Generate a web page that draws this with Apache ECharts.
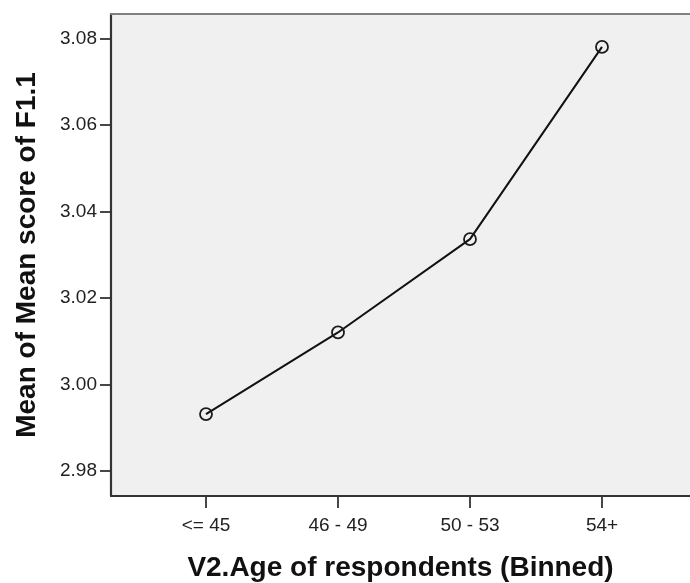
<!DOCTYPE html>
<html>
<head>
<meta charset="utf-8">
<script src="https://cdn.jsdelivr.net/npm/echarts@6/dist/echarts.min.js"></script>
<style>
  html, body { margin: 0; padding: 0; background: #fff; }
  #main { width: 690px; height: 583px; }
</style>
</head>
<body>
<div id="main"></div>
<script>
// age bins and mean values
var ageBins = ['<= 45', '46 - 49', '50 - 53', '54+'];
var meanScore = [2.9931, 3.0120, 3.0336, 3.0781];
var yMin = 2.98, yMax = 3.08, yStep = 0.02;

var fontName = 'Liberation Sans, Arial, sans-serif';

var myChart = echarts.init(document.getElementById('main'));
myChart.setOption({
    animation: false,
    grid: [
        // frame with the grey background
        { left: 111, top: 14, right: 0, bottom: 87, show: true, backgroundColor: '#f0f0f0', borderWidth: 0,
          outerBoundsMode: 'none', containLabel: false },
        // inner area where the points sit
        { left: 206, top: 38.7, width: 396, height: 432, outerBoundsMode: 'none', containLabel: false }
    ],
    xAxis: [
        {
            gridIndex: 0, type: 'value', min: 0, max: 1,
            axisLine: { show: true, lineStyle: { color: '#333', width: 2.2 } },
            axisTick: { show: false }, axisLabel: { show: false }, splitLine: { show: false },
            name: 'V2.Age of respondents (Binned)',
            nameLocation: 'middle', nameGap: 58,
            nameTextStyle: { fontFamily: fontName, fontSize: 28, fontWeight: 'bold', color: '#111' }
        },
        {
            gridIndex: 0, type: 'value', min: 0, max: 1, position: 'top',
            axisLine: { show: true, lineStyle: { color: '#808080', width: 2 } },
            axisTick: { show: false }, axisLabel: { show: false }, splitLine: { show: false }
        },
        {
            gridIndex: 1, type: 'category', data: ageBins, boundaryGap: false,
            offset: 25.3,
            axisLine: { show: false },
            axisTick: { show: true, length: 12, lineStyle: { color: '#333', width: 1.8 } },
            axisLabel: { margin: 20, fontFamily: fontName, fontSize: 19, color: '#222' },
            splitLine: { show: false }
        }
    ],
    yAxis: [
        {
            gridIndex: 0, type: 'value', min: 0, max: 1,
            axisLine: { show: true, lineStyle: { color: '#333', width: 2.2 } },
            axisTick: { show: false }, axisLabel: { show: false }, splitLine: { show: false },
            name: 'Mean of Mean score of F1.1',
            nameLocation: 'middle', nameGap: 70,
            nameTextStyle: { fontFamily: fontName, fontSize: 28, fontWeight: 'bold', color: '#111' }
        },
        {
            gridIndex: 1, type: 'value', min: yMin, max: yMax, interval: yStep,
            offset: 95,
            axisLine: { show: false },
            axisTick: { show: true, length: 11, lineStyle: { color: '#333', width: 1.8 } },
            axisLabel: {
                margin: 14, fontFamily: fontName, fontSize: 19, color: '#222',
                formatter: function (v) { return v.toFixed(2); }
            },
            splitLine: { show: false }
        }
    ],
    series: [
        {
            type: 'line',
            xAxisIndex: 2, yAxisIndex: 1,
            data: meanScore,
            clip: false,
            symbol: 'circle', symbolSize: 12,
            lineStyle: { color: '#111', width: 2 },
            itemStyle: { color: 'rgba(0,0,0,0)', borderColor: '#1a1a1a', borderWidth: 1.8 }
        }
    ]
});
</script>
</body>
</html>
